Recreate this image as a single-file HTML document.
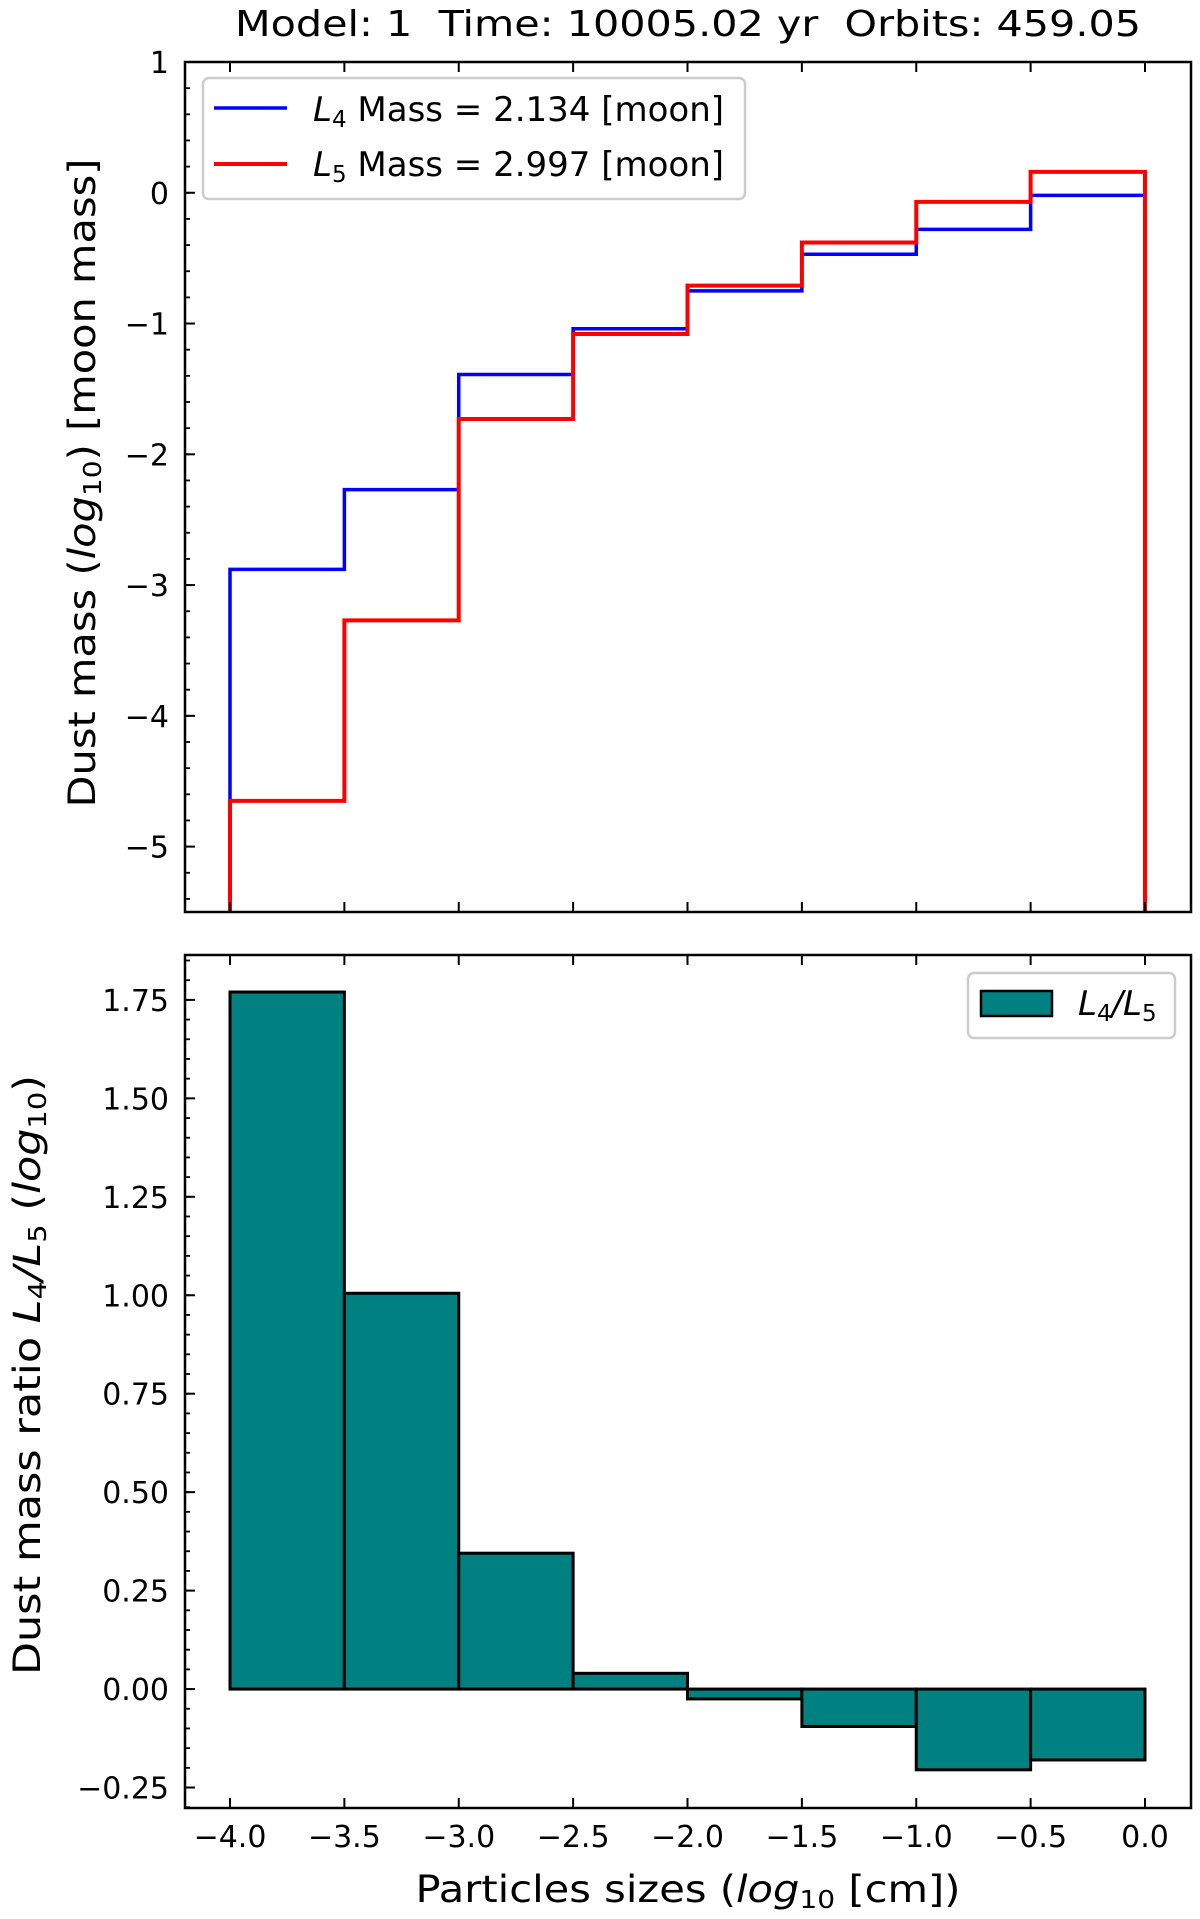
<!DOCTYPE html>
<html><head><meta charset="utf-8"><style>
body{margin:0;background:#fff;}
svg{display:block;font-family:"DejaVu Sans","Liberation Sans",sans-serif;}
text{white-space:pre;}
</style></head><body>
<svg id="chart" width="1200" height="1919" viewBox="0 0 1200 1919">
<text x="688" y="36" font-size="36" text-anchor="middle" textLength="906" lengthAdjust="spacingAndGlyphs">Model: 1  Time: 10005.02 yr  Orbits: 459.05</text>
<g id="gtop"></g>
<g id="gbot"></g>
</svg>
<script>
const binEdges=[-4.0,-3.5,-3.0,-2.5,-2.0,-1.5,-1.0,-0.5,0.0];
const l4Mass=[-2.88,-2.27,-1.39,-1.04,-0.75,-0.47,-0.28,-0.02];
const l5Mass=[-4.65,-3.27,-1.73,-1.08,-0.71,-0.38,-0.07,0.16];
const ratio=[1.77,1.005,0.345,0.04,-0.025,-0.095,-0.205,-0.18];
const topTicks=[1,0,-1,-2,-3,-4,-5];
const topTickLabels=["1","0","\u22121","\u22122","\u22123","\u22124","\u22125"];
const botTicks=[1.75,1.5,1.25,1.0,0.75,0.5,0.25,0,-0.25];
const botTickLabels=["1.75","1.50","1.25","1.00","0.75","0.50","0.25","0.00","\u22120.25"];
const xTicks=[-4,-3.5,-3,-2.5,-2,-1.5,-1,-0.5,0];
const xTickLabels=["\u22124.0","\u22123.5","\u22123.0","\u22122.5","\u22122.0","\u22121.5","\u22121.0","\u22120.5","0.0"];

(function(){
const NS="http://www.w3.org/2000/svg";
const L=185,R=1191;
const X=v=>230+(v+4)*(1145-230)/4;
const TT=62,TB=912,BT=955,BB=1808;
const yt0=1,yt1=-5.5;
const YT=v=>TT+(yt0-v)*(TB-TT)/(yt0-yt1);
const yb0=1.864,yb1=-0.302;
const YB=v=>BT+(yb0-v)*(BB-BT)/(yb0-yb1);
function el(p,t,a){const e=document.createElementNS(NS,t);for(const k in a)e.setAttribute(k,a[k]);p.appendChild(e);return e;}
function txt(p,a,s){const e=el(p,'text',a);e.textContent=s;return e;}
const gTop=document.getElementById('gtop'),gBot=document.getElementById('gbot');

function stepPath(vals,bottom){let d=`M${X(binEdges[0])},${bottom}`;vals.forEach((v,i)=>{d+=`L${X(binEdges[i])},${YT(v)}L${X(binEdges[i+1])},${YT(v)}`;});d+=`L${X(binEdges[binEdges.length-1])},${bottom}`;return d;}
const defs=el(gTop,'defs',{});
const cp=el(defs,'clipPath',{id:'cpt'});el(cp,'rect',{x:L,y:TT,width:R-L,height:TB-TT});
const p4=el(gTop,'path',{d:stepPath(l4Mass,TB+5),fill:'none',stroke:'#0000ff','stroke-width':3.5,'clip-path':'url(#cpt)'});


const p5=el(gTop,'path',{d:stepPath(l5Mass,TB+5),fill:'none',stroke:'#ff0000','stroke-width':4,'clip-path':'url(#cpt)'});



function axes(g,T,B,ticks,labels,Y,showX,name,minorStep,lo,hi){
  const f=el(g,'rect',{x:L,y:T,width:R-L,height:B-T,fill:'none',stroke:'#000','stroke-width':2.5});
  
  
  for(let k=Math.ceil(lo/minorStep);k*minorStep<=hi;k++){const y=Y(k*minorStep);
    el(g,'line',{x1:L,x2:L+5,y1:y,y2:y,stroke:'#000','stroke-width':1.8});}
  ticks.forEach((t,i)=>{const y=Y(t);
    el(g,'line',{x1:L,x2:L+10,y1:y,y2:y,stroke:'#000','stroke-width':2});
    const tl=txt(g,{x:L-16,y:y+11,'font-size':30,'text-anchor':'end'},labels[i]);
    
    
  });
  xTicks.forEach((t,i)=>{const x=X(t);
    el(g,'line',{x1:x,x2:x,y1:B,y2:B-10,stroke:'#000','stroke-width':2});
    el(g,'line',{x1:x,x2:x,y1:T,y2:T+10,stroke:'#000','stroke-width':2});
    if(showX){const tl=txt(g,{x:x,y:B+39,'font-size':30,'text-anchor':'middle'},xTickLabels[i]);
      
      }
  });
}
axes(gTop,TT,TB,topTicks,topTickLabels,YT,false,'top-axes',0.2,yt1,yt0);

const lg=el(gTop,'g',{});


el(lg,'rect',{x:203,y:78,width:542,height:121,rx:6,fill:'#fff',stroke:'#ccc','stroke-width':2.5});
el(lg,'line',{x1:214,x2:287,y1:108,y2:108,stroke:'#0000ff','stroke-width':3.5});
el(lg,'line',{x1:214,x2:287,y1:164,y2:164,stroke:'#ff0000','stroke-width':4});
el(lg,'text',{x:313,y:121,'font-size':34}).innerHTML='<tspan font-style="italic">L</tspan><tspan font-size="23" dy="6">4</tspan><tspan dy="-6"> Mass = 2.134 [moon]</tspan>';
el(lg,'text',{x:313,y:176,'font-size':34}).innerHTML='<tspan font-style="italic">L</tspan><tspan font-size="23" dy="6">5</tspan><tspan dy="-6"> Mass = 2.997 [moon]</tspan>';

const yl=el(gTop,'text',{transform:`translate(95,483) rotate(-90)`,'font-size':37,'text-anchor':'middle',textLength:649,lengthAdjust:'spacingAndGlyphs'});
yl.innerHTML='Dust mass (<tspan font-style="italic">log</tspan><tspan font-size="25" dy="6">10</tspan><tspan dy="-6">) [moon mass]</tspan>';



ratio.forEach((v,i)=>{const x0=X(binEdges[i]),x1=X(binEdges[i+1]);const y0=YB(0),y1=YB(v);
  const b=el(gBot,'rect',{x:x0,y:Math.min(y0,y1),width:x1-x0,height:Math.abs(y1-y0),fill:'#008080',stroke:'#000','stroke-width':3});
  
  
});
axes(gBot,BT,BB,botTicks,botTickLabels,YB,true,'bottom-axes',0.05,yb1,yb0);
const lg2=el(gBot,'g',{});


el(lg2,'rect',{x:968,y:973,width:207,height:65,rx:6,fill:'#fff',stroke:'#ccc','stroke-width':2.5});
el(lg2,'rect',{x:981,y:991,width:71,height:25,fill:'#008080',stroke:'#000','stroke-width':2.5});
el(lg2,'text',{x:1078,y:1015,'font-size':34}).innerHTML='<tspan font-style="italic">L</tspan><tspan font-size="23" dy="6">4</tspan><tspan dy="-6" font-style="italic">/L</tspan><tspan font-size="23" dy="6">5</tspan>';
const yl2=el(gBot,'text',{transform:`translate(40,1375) rotate(-90)`,'font-size':37,'text-anchor':'middle',textLength:600,lengthAdjust:'spacingAndGlyphs'});
yl2.innerHTML='Dust mass ratio <tspan font-style="italic">L</tspan><tspan font-size="25" dy="6">4</tspan><tspan dy="-6" font-style="italic">/L</tspan><tspan font-size="25" dy="6">5</tspan><tspan dy="-6"> (</tspan><tspan font-style="italic">log</tspan><tspan font-size="25" dy="6">10</tspan><tspan dy="-6">)</tspan>';


const xl=el(gBot,'text',{x:688,y:1902,'font-size':37,'text-anchor':'middle',textLength:545,lengthAdjust:'spacingAndGlyphs'});
xl.innerHTML='Particles sizes (<tspan font-style="italic">log</tspan><tspan font-size="25" dy="6">10</tspan><tspan dy="-6"> [cm])</tspan>';


})();
</script>
</body></html>
